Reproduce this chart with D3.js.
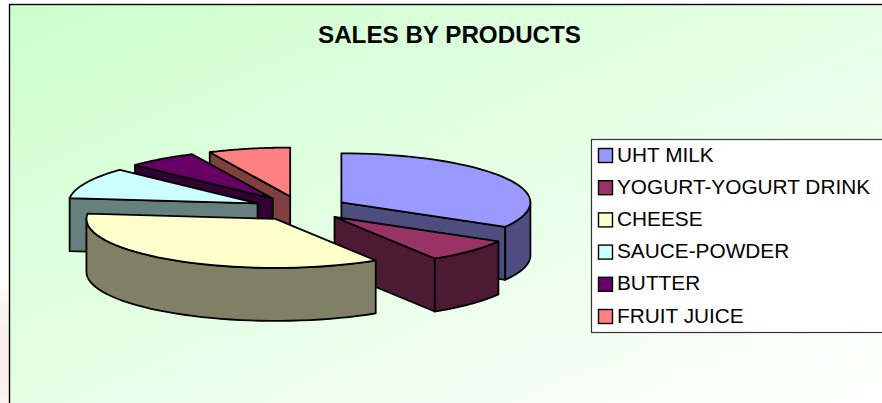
<!DOCTYPE html>
<html><head><meta charset="utf-8">
<script src="https://cdn.jsdelivr.net/npm/d3@7"></script>
<style>html,body{margin:0;padding:0;background:#fff;overflow:hidden}svg{display:block}</style>
</head><body><svg id="c" width="882" height="403"></svg>
<script>
const categories = ["UHT MILK","YOGURT-YOGURT DRINK","CHEESE","SAUCE-POWDER","BUTTER","FRUIT JUICE"];
const shares = [33.3,7.8,35.6,10.3,6,7];
const colors = ["#9999ff","#993366","#ffffcc","#ccffff","#660066","#ff8080"];
const titleText = "SALES BY PRODUCTS";

const svg = d3.select("#c");
const defs = svg.append("defs");
const bg = defs.append("linearGradient").attr("id","bg").attr("gradientUnits","userSpaceOnUse")
  .attr("x1",10).attr("y1",5).attr("x2",308.5).attr("y2",663);
bg.append("stop").attr("offset",0).attr("stop-color","#ccffcc");
bg.append("stop").attr("offset",1).attr("stop-color","#ffffff");
const edge = defs.append("linearGradient").attr("id","edge").attr("x1",0).attr("y1",0).attr("x2",0).attr("y2",1);
edge.append("stop").attr("offset",.68).attr("stop-color","#ffffff");
edge.append("stop").attr("offset",.78).attr("stop-color","#f4f4f2");
edge.append("stop").attr("offset",.9).attr("stop-color","#ffeaea");
edge.append("stop").attr("offset",1).attr("stop-color","#fff2f2");
svg.append("rect").attr("x",0).attr("y",0).attr("width",9).attr("height",403).attr("fill","url(#edge)");
svg.append("rect").attr("x",9.5).attr("y",4.5).attr("width",880).attr("height",410)
  .attr("fill","url(#bg)").attr("stroke","#000").attr("stroke-width",1.4);

svg.append("text").attr("x",449.5).attr("y",43).attr("text-anchor","middle")
  .attr("font-family","Liberation Sans").attr("font-weight","bold").attr("font-size",24.2).attr("fill","#000").text(titleText);

// pie projection
const cx=300.5, cy=208.5, rx=189, ry=49, depth=53, explode=0.25;
const pie = d3.pie().sort(null).value(d=>d);
const arcs = pie(shares).map((a,i)=>({a0:a.startAngle,a1:a.endAngle,i}));
const at=(s,t,r=1)=>[s.ox+r*rx*Math.sin(t), s.oy-r*ry*Math.cos(t)];
arcs.forEach(s=>{const m=(s.a0+s.a1)/2; s.ox=cx+explode*rx*Math.sin(m); s.oy=cy-explode*ry*Math.cos(m);});
const line=d3.line();
const dark=(c,k)=>{const r=d3.rgb(c);return d3.rgb(r.r*k,r.g*k,r.b*k).formatHex();};
const rim=(s,t0,t1)=>d3.range(0,41).map(j=>at(s,t0+(t1-t0)*j/40));
const down=pts=>pts.map(p=>[p[0],p[1]+depth]);
const order=[5,4,3,0,1,2];
const g=svg.append("g").attr("stroke","#000").attr("stroke-width",1.8).attr("stroke-linejoin","round");
order.forEach(k=>{
  const s=arcs[k], side=dark(colors[k],0.5);
  const face=t=>{const o=[s.ox,s.oy],p=at(s,t);return [o,p,[p[0],p[1]+depth],[o[0],o[1]+depth]];};
  if(Math.sin(s.a0)<-1e-6) g.append("path").attr("d",line(face(s.a0))+"Z").attr("fill",side);
  if(Math.sin(s.a1)>1e-6) g.append("path").attr("d",line(face(s.a1))+"Z").attr("fill",side);
  const lo=Math.max(s.a0,Math.PI/2), hi=Math.min(s.a1,Math.PI*1.5);
  if(hi>lo){const r=rim(s,lo,hi); g.append("path").attr("d",line(r.concat(down(r).reverse()))+"Z").attr("fill",side);}
  g.append("path").attr("d",line([[s.ox,s.oy]].concat(rim(s,s.a0,s.a1)))+"Z").attr("fill",colors[k]);
});

// legend
const lg=svg.append("g");
lg.append("rect").attr("x",591.5).attr("y",139.5).attr("width",300).attr("height",193)
  .attr("fill","#fff").attr("stroke","#333").attr("stroke-width",1.2);
const ly=d3.scalePoint().domain(categories).range([155.5,316.5]);
categories.forEach((c,i)=>{
  lg.append("rect").attr("x",598.5).attr("y",ly(c)-7).attr("width",14).attr("height",14)
    .attr("fill",colors[i]).attr("stroke","#000").attr("stroke-width",1.4);
  lg.append("text").attr("x",617).attr("y",ly(c)+6).attr("font-family","Liberation Sans")
    .attr("font-size",20.8).attr("fill","#000").text(c);
});
</script></body></html>
